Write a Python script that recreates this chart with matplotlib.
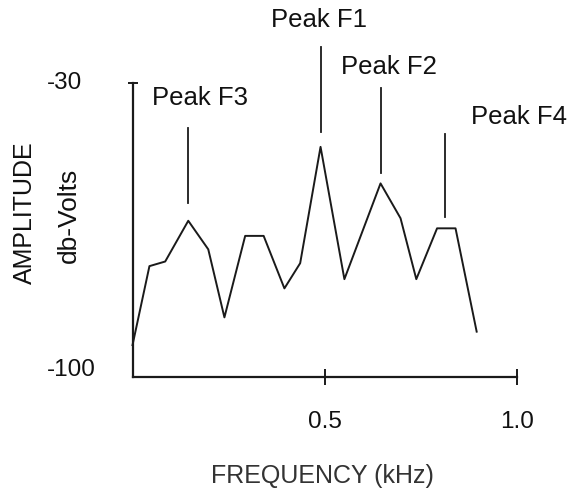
import matplotlib.pyplot as plt

plt.rcParams['font.family'] = ['Liberation Sans', 'DejaVu Sans']

# spectrum
freq = [0.0, 0.044, 0.085, 0.145, 0.197, 0.239, 0.293, 0.341, 0.395, 0.436,
        0.489, 0.551, 0.645, 0.697, 0.738, 0.792, 0.840, 0.895]
amp = [-92.4, -73.6, -72.5, -62.8, -69.6, -85.8, -66.4, -66.4, -78.9, -72.9,
       -45.2, -76.7, -53.9, -62.2, -76.7, -64.6, -64.6, -89.2]

peak_names = ["Peak F3", "Peak F1", "Peak F2", "Peak F4"]
peak_freq = [0.145, 0.489, 0.645, 0.813]
peak_line_lo = [-58.6, -41.6, -51.5, -62.0]
peak_line_hi = [-40.7, -21.4, -31.3, -42.1]
label_x = [0.176, 0.486, 0.668, 1.004]
label_y = [-33.6, -15.0, -26.2, -38.1]

xticks = [0.5, 1.0]
xtick_labels = ["0.5", "1.0"]
yticks = [-30, -100]
ytick_labels = ["-30", "-100"]

fig = plt.figure(figsize=(5.68, 4.92), dpi=100)
ax = fig.add_axes([0.2333, 0.2337, 0.677, 0.5976])
ax.set_xlim(0, 1)
ax.set_ylim(-100, -30)

ax.plot(freq, amp, color='#1a1a1a', lw=1.4, clip_on=False)

for name, px, lo, hi, tx, ty in zip(peak_names, peak_freq, peak_line_lo,
                                    peak_line_hi, label_x, label_y):
    ax.plot([px, px], [lo, hi], color='#1a1a1a', lw=1.3, clip_on=False)
    ax.text(tx, ty, name, ha='center', va='center', fontsize=18.5,
            color='#111111')

for s in ['top', 'right']:
    ax.spines[s].set_visible(False)
for s in ['left', 'bottom']:
    ax.spines[s].set_linewidth(1.6)
    ax.spines[s].set_color('#1a1a1a')

ax.set_xticks(xticks)
ax.set_xticklabels(xtick_labels, fontsize=17.5, color='#111111')
ax.tick_params(axis='x', direction='inout', length=11, width=1.4,
               pad=19, color='#1a1a1a')
ax.set_yticks([-30])
ax.set_yticklabels([])
ax.tick_params(axis='y', direction='inout', length=6.5, width=1.4,
               color='#1a1a1a')

# y tick labels are left aligned in the reference
for v, lab, dy in zip(yticks, ytick_labels, [0, 1.7]):
    ax.text(-0.222, v + dy, lab, transform=ax.get_yaxis_transform(),
            ha='left', va='center', fontsize=17.5, color='#111111')

fig.text(25 / 568, 1 - 213 / 492, "AMPLITUDE", rotation=90, ha='center',
         va='center', fontsize=18, color='#111111')
fig.text(69 / 568, 1 - 215 / 492, "db-Volts", rotation=90, ha='center',
         va='center', fontsize=19, color='#111111')
fig.text(322 / 568, 1 - 476 / 492, "FREQUENCY (kHz)", ha='center',
         va='center', fontsize=18, color='#333333')

fig.savefig('out.png', dpi=100, facecolor='white')
